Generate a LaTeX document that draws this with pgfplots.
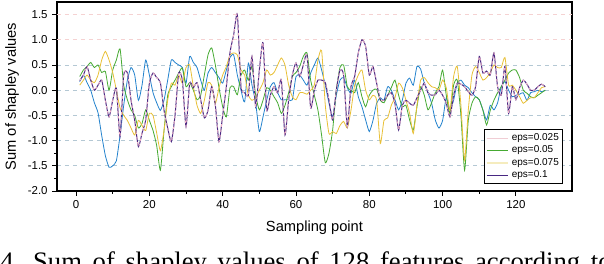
\documentclass[border=0pt]{standalone}
\usepackage{pgfplots}
\usepackage{pgfplotstable}
\pgfplotsset{compat=1.18}
\usepackage{fontspec}
\setmainfont{Liberation Sans}
\newfontfamily\capfont{Liberation Serif}
\definecolor{cBlue}{RGB}{35,130,205}
\definecolor{cGreen}{RGB}{70,170,50}
\definecolor{cYellow}{RGB}{232,192,55}
\definecolor{cPurple}{RGB}{72,40,130}
\definecolor{cPink}{RGB}{242,180,200}
\definecolor{lPink}{RGB}{240,205,212}
\definecolor{lYellow}{RGB}{245,236,190}
\definecolor{gridA}{RGB}{180,200,212}
\definecolor{gridB}{RGB}{245,210,210}
\pgfplotstableread{
x B G Y P
1 0.17 0.27 0.10 0.19
2 0.30 0.40 0.20 0.30
3 0.15 0.47 0.30 0.47
4 0.00 0.55 0.20 0.20
5 -0.25 0.45 0.15 0.00
6 -0.45 0.50 0.30 0.10
7 -0.90 0.35 0.60 0.20
8 -1.30 0.37 0.77 -0.20
9 -1.53 0.00 0.60 -0.53
10 -1.50 0.40 0.35 -0.20
11 -1.40 0.60 0.00 0.04
12 -0.90 0.82 -0.35 -0.92
13 -0.30 0.10 -0.50 0.30
14 0.20 -0.19 -0.60 0.34
15 0.45 -0.39 -0.75 -0.20
16 0.30 -0.50 -0.89 -0.60
17 -0.20 -0.75 -0.60 -1.12
18 0.10 -0.66 -0.70 -0.85
19 0.60 -0.39 -0.80 -0.59
20 0.30 -0.60 -0.46 0.14
21 -0.05 -0.80 -0.50 0.34
22 -0.25 -1.10 -0.85 0.25
23 -0.40 -1.59 -1.20 0.15
24 -0.20 -0.80 -0.80 -0.40
25 0.20 -0.10 -0.20 -0.75
26 0.60 0.07 0.14 -1.02
27 0.55 0.20 0.10 -0.50
28 0.50 0.34 0.30 0.34
29 0.45 0.44 0.14 0.20
30 0.14 0.07 0.45 -0.72
31 0.67 0.15 0.50 0.14
32 0.55 0.00 0.07 0.05
33 0.45 -0.19 -0.30 0.15
34 0.20 -0.10 -0.46 -0.19
35 0.00 0.30 -0.20 -0.55
36 0.34 0.70 0.15 -0.40
37 0.45 0.84 0.10 0.07
38 0.35 0.50 -0.26 -0.30
39 0.25 0.05 0.05 -1.02
40 0.14 -0.33 0.30 -0.50
41 0.40 -0.53 0.47 0.07
42 0.65 0.05 0.70 0.75
43 0.70 0.07 0.74 1.10
44 0.30 -0.09 0.70 1.50
45 0.00 0.30 0.40 0.07
46 -0.23 0.40 0.30 -0.05
47 0.54 0.20 -0.10 -0.10
48 0.10 0.47 -0.20 0.67
49 -0.25 -0.10 -0.15 -0.33
50 -0.82 -0.39 0.00 0.40
51 -0.53 -0.20 0.15 0.94
52 -0.20 0.05 0.40 -0.39
53 0.07 0.00 0.30 -0.10
54 0.15 -0.13 0.35 0.07
55 -0.05 -0.25 0.50 -0.05
56 -0.19 -0.46 0.64 0.20
57 -0.19 -0.30 0.50 -0.89
58 -0.19 -0.05 0.10 -0.19
59 -0.19 0.27 -0.13 0.30
60 0.27 0.35 -0.19 0.54
61 0.30 0.47 -0.05 0.27
62 0.20 0.67 -0.05 0.50
63 0.10 0.74 -0.08 0.70
64 0.34 0.20 0.00 -0.35
65 0.50 -0.10 0.10 0.00
66 0.64 -0.40 0.60 0.20
67 0.40 -0.90 0.78 0.20
68 0.10 -1.44 -0.30 0.15
69 -0.26 -1.25 -0.86 -0.20
70 -0.53 -0.79 -0.82 -0.59
71 -0.10 0.00 -0.86 0.00
72 0.20 0.45 -0.70 0.40
73 0.25 0.50 -0.62 0.30
74 0.05 0.07 -0.75 -0.72
75 -0.06 0.00 -0.40 0.07
76 0.20 -0.05 0.10 0.27
77 -0.13 0.15 0.30 0.74
78 -0.33 -0.13 0.40 1.00
79 -0.59 -0.33 0.00 0.87
80 -0.82 -0.10 -0.19 0.30
81 -0.60 0.00 -0.10 0.47
82 -0.26 0.02 -0.20 0.14
83 -0.15 -0.20 -1.06 -0.19
84 -0.20 -0.25 -0.60 -0.20
85 0.07 -0.10 -0.55 -0.10
86 0.00 0.05 -0.30 -0.05
87 -0.19 0.20 -0.15 -0.26
88 -0.39 -0.10 0.14 -0.79
89 -0.20 -0.33 0.05 -0.30
90 0.14 -0.30 -0.20 -0.20
91 0.24 -0.59 -0.46 -0.26
92 0.10 -0.79 -0.86 -0.30
93 0.47 -0.33 -0.30 -0.15
94 0.42 0.07 0.20 0.00
95 0.14 -0.10 0.25 0.14
96 -0.05 -0.39 0.15 -0.05
97 -0.26 -0.25 0.07 -0.10
98 -0.59 -0.05 0.05 -0.09
99 -0.75 0.07 0.00 0.00
100 -0.60 0.40 0.20 -0.10
101 -0.15 -0.10 0.05 -0.26
102 -0.39 -0.46 -0.40 -0.53
103 -0.20 0.10 0.27 -0.10
104 0.14 0.20 0.47 0.14
105 0.20 -0.50 -0.30 0.12
106 0.10 -1.59 -1.39 0.07
107 0.05 -0.60 -0.40 -0.03
108 -0.05 -0.26 0.30 -0.10
109 -0.13 -0.13 0.47 0.07
110 -0.19 -0.19 0.35 0.67
111 -0.39 -0.40 0.20 0.34
112 -0.59 -0.69 0.25 0.38
113 -0.30 -0.40 0.35 0.30
114 -0.39 -0.20 0.50 0.74
115 -0.25 -0.05 0.45 0.07
116 0.07 0.07 0.45 -0.10
117 0.17 0.20 0.65 0.47
118 0.00 0.34 0.10 -0.46
119 -0.13 0.40 0.10 0.07
120 -0.10 0.40 0.00 -0.19
121 -0.08 0.25 -0.13 0.05
122 -0.05 0.00 -0.26 0.20
123 -0.20 -0.06 -0.20 0.12
124 -0.05 -0.13 -0.15 0.00
125 -0.03 -0.15 -0.15 0.00
126 0.00 -0.10 -0.05 0.07
127 -0.03 -0.05 0.05 0.12
128 0.00 0.00 0.07 0.07
}\datatable
\begin{document}
\begin{tikzpicture}
\begin{axis}[
  at={(42.75pt,54.75pt)}, anchor=south west,
  scale only axis, width=386.25pt, height=141.75pt,
  xmin=-5.2, xmax=135.3, ymin=-2.0, ymax=1.75,
  xtick={0,20,...,120}, minor x tick num=1,
  ytick={-2,-1.5,...,0.5}, minor y tick num=1,
  extra y ticks={1.0,1.5},
  extra y tick style={grid=major, major grid style={dashed, gridB, line width=0.6pt}},
  ymajorgrids, major grid style={dashed, gridA, line width=0.6pt},
  axis line style={line width=0.8pt},
  tick align=outside, xtick pos=bottom, ytick pos=left,
  major tick length=3.5pt, minor tick length=2pt,
  every tick/.style={black, line width=0.7pt},
  /pgf/number format/assume math mode=true,
  yticklabel style={/pgf/number format/.cd, fixed, fixed zerofill, precision=1},
  ticklabel style={font=\fontsize{8.6}{10}\selectfont},
  xlabel={Sampling point}, ylabel={Sum of shapley values},
  label style={font=\fontsize{11}{13}\selectfont},
  xlabel style={at={(rel axis cs:0.5,0)}, anchor=center, yshift=-27.75pt},
  ylabel style={at={(rel axis cs:0,0.5)}, anchor=center, yshift=33.75pt},
  legend style={at={(rel axis cs:0.983,0.037)}, anchor=south east, draw=black, line width=0.6pt,
    font=\fontsize{7.5}{8}\selectfont, inner sep=1pt, row sep=-1.5pt, fill=white},
  legend cell align=left,
  legend image code/.code={\draw[#1] (0pt,0pt) -- (16pt,0pt);},
  every axis plot/.append style={smooth, tension=0.35},
]
\addplot[forget plot, cBlue, line width=0.6pt] table[x=x,y=B] {\datatable};
\addplot[forget plot, cGreen, line width=0.6pt] table[x=x,y=G] {\datatable};
\addplot[forget plot, cYellow, line width=0.6pt] table[x=x,y=Y] {\datatable};
\addplot[forget plot, cPurple, line width=0.75pt] table[x=x,y=P] {\datatable};
\addplot[forget plot, cPink, line width=0.6pt, dash pattern=on 2pt off 2pt] table[x=x,y=P] {\datatable};
\addlegendimage{lPink, line width=0.8pt, sharp plot}
\addlegendentry{eps=0.025}
\addlegendimage{cGreen, line width=0.8pt, sharp plot}
\addlegendentry{eps=0.05}
\addlegendimage{lYellow, line width=1.8pt, sharp plot}
\addlegendentry{eps=0.075}
\addlegendimage{cPurple, line width=0.8pt, sharp plot}
\addlegendentry{eps=0.1}
\end{axis}
\node[anchor=base west, inner sep=0pt] at (0pt,-5pt) {\capfont\fontsize{20}{22}\selectfont\spaceskip=8pt 4. Sum of shapley values of 128 features according to};
\pgfresetboundingbox
\path[use as bounding box] (0,0) rectangle (453pt,198pt);
\end{tikzpicture}
\end{document}
